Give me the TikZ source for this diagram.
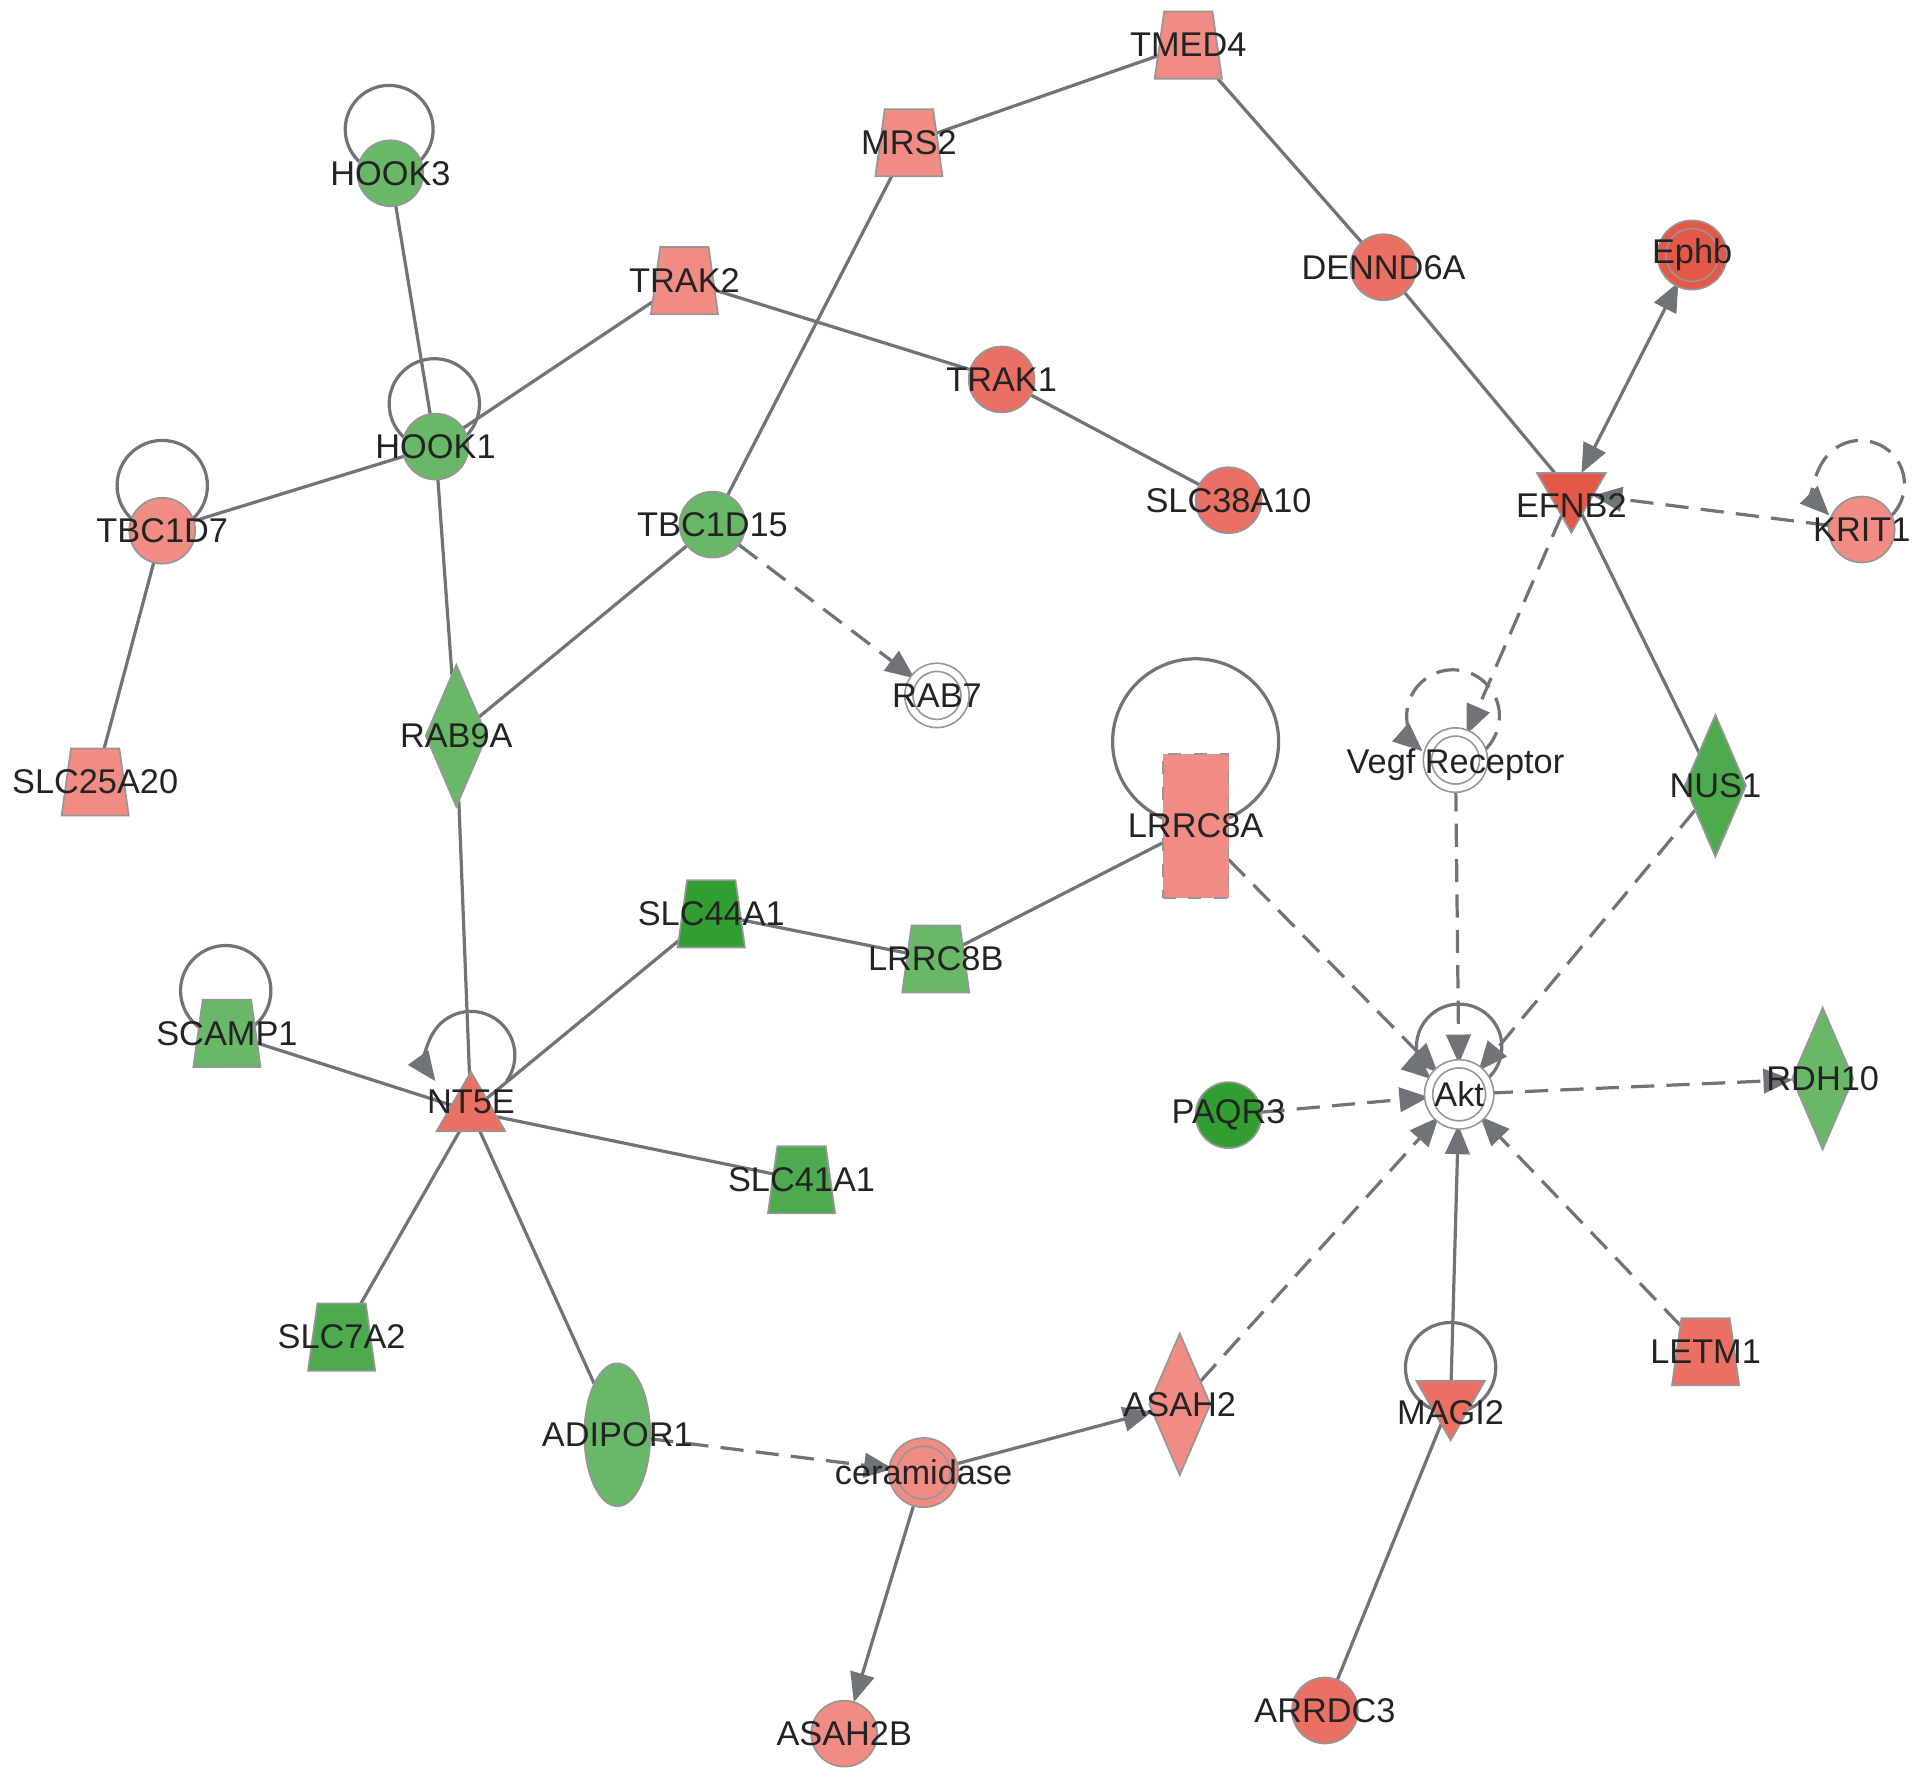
\documentclass[tikz,border=0pt]{standalone}
\usepackage{fontspec}
\setmainfont{Liberation Sans}
\usetikzlibrary{shapes.geometric,arrows.meta,backgrounds}

\definecolor{redlo}{RGB}{240,140,132}
\definecolor{redmid}{RGB}{235,112,100}
\definecolor{redhi}{RGB}{228,88,72}
\definecolor{greenlo}{RGB}{104,184,104}
\definecolor{greenmid}{RGB}{78,170,78}
\definecolor{greenhi}{RGB}{48,158,48}
\definecolor{rimgray}{RGB}{150,150,150}
\definecolor{edgegray}{RGB}{112,116,120}
\definecolor{inkgray}{RGB}{35,35,35}

\tikzset{
  gene/.style={draw=rimgray, line width=0.4pt, inner sep=0.5pt, outer sep=0pt},
  circ/.style={gene, circle, minimum size=0.54cm},
  trap/.style={gene, trapezium, trapezium angle=79, trapezium stretches=true,
               minimum width=0.55cm, minimum height=0.55cm},
  diam/.style={gene, diamond, minimum width=0.5cm, minimum height=1.16cm},
  triup/.style={gene, regular polygon, regular polygon sides=3, minimum size=0.65cm},
  tridown/.style={triup, shape border rotate=180},
  cplx/.style={gene, circle, minimum size=0.46cm, double=white, double distance=1.5pt},
  tag/.style={font=\fontsize{8}{9}\selectfont, text=inkgray, inner sep=0pt},
  link/.style={draw=edgegray, line width=0.75pt},
  act/.style={link, -{Triangle[length=0.24cm,width=0.2cm]}},
  ind/.style={act, dash pattern=on 0.19cm off 0.1cm},
}

\begin{document}
\begin{tikzpicture}[x=0.01cm, y=-0.01cm]
  \useasboundingbox (0,0) rectangle (1568,1465);

  % left cluster
  \node[circ, fill=greenlo, label={[tag]center:HOOK3}] (hook3) at (320,142) {};
  \node[circ, fill=greenlo, label={[tag]center:HOOK1}] (hook1) at (357,366) {};
  \node[circ, fill=redlo, label={[tag]center:TBC1D7}] (tbc1d7) at (133,435) {};
  \node[trap, fill=redlo, label={[tag]center:SLC25A20}] (slc25a20) at (78,641) {};
  \node[trap, fill=redlo, label={[tag]center:TRAK2}] (trak2) at (561,230) {};
  \node[trap, fill=redlo, label={[tag]center:MRS2}] (mrs2) at (745,117) {};
  \node[trap, fill=redlo, label={[tag]center:TMED4}] (tmed4) at (974,37) {};
  \node[circ, fill=redmid, label={[tag]center:DENND6A}] (dennd6a) at (1134,219) {};
  \node[circ, fill=redmid, label={[tag]center:TRAK1}] (trak1) at (821,311) {};
  \node[circ, fill=redmid, label={[tag]center:SLC38A10}] (slc38a10) at (1007,410) {};
  \node[circ, fill=greenlo, label={[tag]center:TBC1D15}] (tbc1d15) at (584,430) {};
  \node[cplx, label={[tag]center:RAB7}] (rab7) at (768,570) {};
  \node[diam, fill=greenlo, label={[tag]center:RAB9A}] (rab9a) at (374,603) {};

  % right cluster
  \node[cplx, fill=redhi, double=redhi, minimum size=0.5cm, label={[tag]center:Ephb}] (ephb) at (1387,209) {};
  \node[tridown, fill=redhi, label={[tag,yshift=-0.1cm]center:EFNB2}] (efnb2) at (1288,404) {};
  \node[circ, fill=redlo, label={[tag]center:KRIT1}] (krit1) at (1526,434) {};
  \node[gene, rectangle, dashed, fill=redlo, minimum width=0.54cm, minimum height=1.18cm,
        label={[tag]center:LRRC8A}] (lrrc8a) at (980,677) {};
  \node[cplx, label={[tag,yshift=-0.04cm]center:Vegf Receptor}] (vegf) at (1193,623) {};
  \node[diam, fill=greenmid, label={[tag]center:NUS1}] (nus1) at (1406,644) {};
  \node[cplx, minimum size=0.5cm, label={[tag]center:Akt}] (akt) at (1196,897) {};
  \node[circ, fill=greenhi, label={[tag]center:PAQR3}] (paqr3) at (1007,914) {};
  \node[diam, fill=greenlo, label={[tag]center:RDH10}] (rdh10) at (1494,884) {};

  % lower cluster
  \node[trap, fill=greenhi, label={[tag]center:SLC44A1}] (slc44a1) at (583,749) {};
  \node[trap, fill=greenlo, label={[tag]center:LRRC8B}] (lrrc8b) at (767,786) {};
  \node[trap, fill=greenlo, label={[tag]center:SCAMP1}] (scamp1) at (186,847) {};
  \node[triup, fill=redmid, label={[tag,yshift=0.08cm]center:NT5E}] (nt5e) at (386,911) {};
  \node[trap, fill=greenmid, label={[tag]center:SLC41A1}] (slc41a1) at (657,967) {};
  \node[trap, fill=greenmid, label={[tag]center:SLC7A2}] (slc7a2) at (280,1096) {};
  \node[gene, ellipse, fill=greenlo, minimum width=0.54cm, minimum height=1.17cm,
        label={[tag]center:ADIPOR1}] (adipor1) at (506,1176) {};
  \node[cplx, fill=redlo, double=redlo, minimum size=0.5cm, label={[tag]center:ceramidase}] (cer) at (757,1207) {};
  \node[diam, fill=redlo, label={[tag]center:ASAH2}] (asah2) at (967,1151) {};
  \node[tridown, fill=redmid, label={[tag,yshift=-0.1cm]center:MAGI2}] (magi2) at (1189,1148) {};
  \node[trap, fill=redmid, label={[tag]center:LETM1}] (letm1) at (1398,1108) {};
  \node[circ, fill=redlo, label={[tag]center:ASAH2B}] (asah2b) at (692,1421) {};
  \node[circ, fill=redmid, label={[tag]center:ARRDC3}] (arrdc3) at (1086,1402) {};

  \begin{scope}[on background layer]
    % plain links
    \draw[link] (hook3) -- (hook1);
    \draw[link] (hook1) -- (trak2);
    \draw[link] (hook1) -- (tbc1d7);
    \draw[link] (hook1) -- (rab9a);
    \draw[link] (tbc1d7) -- (slc25a20);
    \draw[link] (trak2) -- (trak1);
    \draw[link] (trak1) -- (slc38a10);
    \draw[link] (mrs2) -- (tmed4);
    \draw[link] (mrs2) -- (tbc1d15);
    \draw[link] (tmed4) -- (dennd6a);
    \draw[link] (dennd6a) -- (efnb2);
    \draw[link] (tbc1d15) -- (rab9a);
    \draw[link] (rab9a) -- (nt5e);
    \draw[link] (efnb2) -- (nus1);
    \draw[link] (lrrc8a) -- (lrrc8b);
    \draw[link] (lrrc8b) -- (slc44a1);
    \draw[link] (slc44a1) -- (nt5e);
    \draw[link] (scamp1) -- (nt5e);
    \draw[link] (nt5e) -- (slc41a1);
    \draw[link] (nt5e) -- (slc7a2);
    \draw[link] (nt5e) -- (adipor1);
    \draw[link] (magi2) -- (arrdc3);
    % direct arrows
    \draw[act] (cer) -- (asah2);
    \draw[act] (cer) -- (asah2b);
    \draw[act] (magi2) -- (akt);
    \draw[act, {Triangle[length=0.24cm,width=0.2cm]}-{Triangle[length=0.24cm,width=0.2cm]}] (efnb2) -- (ephb);
    % indirect arrows
    \draw[ind] (tbc1d15) -- (rab7);
    \draw[ind] (krit1) -- (efnb2);
    \draw[ind] (efnb2) -- (vegf);
    \draw[ind] (vegf) -- (akt);
    \draw[ind] (lrrc8a) -- (akt);
    \draw[ind] (nus1) -- (akt);
    \draw[ind] (paqr3) -- (akt);
    \draw[ind] (akt) -- (rdh10);
    \draw[ind] (asah2) -- (akt);
    \draw[ind] (letm1) -- (akt);
    \draw[ind] (adipor1) -- (cer);
    % self loops
    \draw[link] (hook3.center) ++(-1,-36) circle[radius=0.36cm];
    \draw[link] (hook1.center) ++(-1,-35) circle[radius=0.37cm];
    \draw[link] (tbc1d7.center) ++(0,-37) circle[radius=0.37cm];
    \draw[link] (scamp1.center) ++(-1,-35) circle[radius=0.37cm];
    \draw[link] (lrrc8a.center) ++(0,-69) circle[radius=0.68cm];
    \draw[link] (magi2.center) ++(0,-27) circle[radius=0.37cm];
    \draw[act] (nt5e.center) ++(0,-46) ++(-36:0.36cm) arc[start angle=-36, end angle=216, radius=0.36cm];
    \draw[act] (akt.center) ++(0,-39) ++(-49:0.35cm) arc[start angle=-49, end angle=229, radius=0.35cm];
    \draw[ind] (krit1.center) ++(-1,-37) ++(-45:0.36cm) arc[start angle=-45, end angle=225, radius=0.36cm];
    \draw[ind] (vegf.center) ++(-2,-36) ++(-49:0.38cm) arc[start angle=-49, end angle=229, radius=0.38cm];
  \end{scope}
\end{tikzpicture}
\end{document}
